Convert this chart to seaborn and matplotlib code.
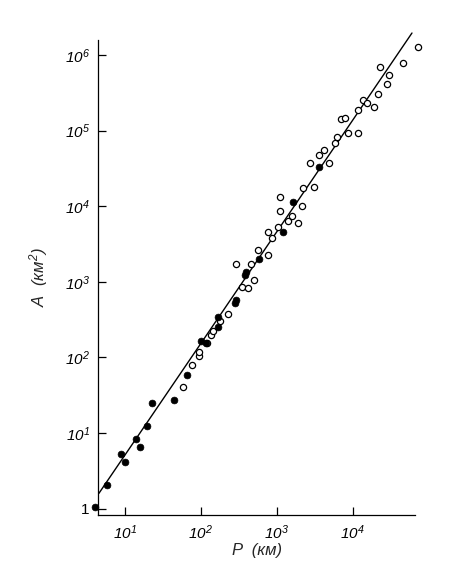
import matplotlib
matplotlib.use("Agg")
import matplotlib.pyplot as plt
import numpy as np
import pandas as pd
import seaborn as sns
from matplotlib.ticker import FixedLocator, FixedFormatter, NullLocator

# ---- data (P in km, A in km^2) ----
filled_P = [4.03, 5.74, 8.86, 10.0, 13.96, 15.8, 19.3, 22.5, 44.2, 65, 99.4, 116,
            166, 169, 281, 294, 381, 399, 588, 1196, 1650, 3597]
filled_A = [1.05, 2.05, 5.23, 4.17, 8.33, 6.47, 12.5, 24.7, 27.1, 58.5, 165, 154,
            345, 250, 529, 583, 1230, 1368, 1984, 4600, 11480, 33300]

open_P = [57.5, 75.6, 95.3, 95.3, 121, 135, 146, 179, 225, 345, 414, 501, 287, 453,
          570, 773, 773, 857, 1028, 1102, 1102, 1406, 1611, 1919, 2128, 2234, 3090,
          2737, 4920, 3565, 4150, 5850, 6150, 8670, 11750, 7080, 7920, 11750, 13670,
          15280, 19360, 21730, 28050, 30060, 22900, 46450, 73100]
open_A = [41, 79.3, 104, 119, 156, 198, 225, 306, 375, 853, 820, 1047, 1703, 1703,
          2612, 2262, 4600, 3760, 5355, 8713, 13120, 6370, 7420, 6085, 10160, 17260,
          18120, 37260, 37260, 47550, 54580, 68550, 83000, 92960, 94400, 141000,
          145500, 190200, 257800, 229600, 202200, 302000, 417000, 538500, 683800,
          790700, 1288000]

fit_P = [4.54, 60400]
fit_A = [1.59, 1955000]

x_ticks = [10, 100, 1000, 10000]
x_tick_labels = [r"$10^{1}$", r"$10^{2}$", r"$10^{3}$", r"$10^{4}$"]
y_ticks = [1, 10, 100, 1000, 10000, 100000, 1000000]
y_tick_labels = ["1", r"$10^{1}$", r"$10^{2}$", r"$10^{3}$", r"$10^{4}$",
                 r"$10^{5}$", r"$10^{6}$"]

# ---- style ----
sns.set_style("ticks")
plt.rcParams["font.family"] = ["Liberation Sans", "DejaVu Sans"]
plt.rcParams["mathtext.fontset"] = "custom"
plt.rcParams["mathtext.rm"] = "Liberation Sans:italic"
plt.rcParams["mathtext.it"] = "Liberation Sans:italic"
plt.rcParams["mathtext.bf"] = "Liberation Sans:italic"

fig = plt.figure(figsize=(4.5, 5.71), dpi=100)
ax = fig.add_axes([98 / 450, 1 - 515 / 571, 317 / 450, 475 / 571])
ax.set_xscale("log")
ax.set_yscale("log")

df_fit = pd.DataFrame({"P": fit_P, "A": fit_A})
df_filled = pd.DataFrame({"P": filled_P, "A": filled_A})
df_open = pd.DataFrame({"P": open_P, "A": open_A})

sns.lineplot(data=df_fit, x="P", y="A", ax=ax, color="black", linewidth=1.0)
ax.lines[-1].set_clip_on(False)

sns.scatterplot(data=df_open, x="P", y="A", ax=ax, color="white",
                edgecolor="black", linewidth=0.9, s=20, zorder=3)
ax.collections[-1].set_clip_on(False)
sns.scatterplot(data=df_filled, x="P", y="A", ax=ax, color="black",
                edgecolor="black", linewidth=0.5, s=24, zorder=4)
ax.collections[-1].set_clip_on(False)

ax.set_xlim(4.42, 66200)
ax.set_ylim(0.823, 1.58e6)

ax.xaxis.set_major_locator(FixedLocator(x_ticks))
ax.xaxis.set_major_formatter(FixedFormatter(x_tick_labels))
ax.yaxis.set_major_locator(FixedLocator(y_ticks))
ax.yaxis.set_major_formatter(FixedFormatter(y_tick_labels))
ax.xaxis.set_minor_locator(NullLocator())
ax.yaxis.set_minor_locator(NullLocator())
ax.tick_params(axis="both", which="major", direction="in", length=6, width=0.9,
               labelsize=11, pad=6, colors="black")

sns.despine(ax=ax)
for sp in ("left", "bottom"):
    ax.spines[sp].set_linewidth(0.9)
    ax.spines[sp].set_color("black")

ax.set_xlabel("P  (км)", fontsize=12, fontstyle="italic")
ax.set_ylabel(r"$A$  (км$^{2}$)", fontsize=12, fontstyle="italic")
ax.xaxis.set_label_coords(0.5, -0.058)
ax.yaxis.set_label_coords(-0.15, 0.5)

fig.savefig("out.png", dpi=100, facecolor="white")
